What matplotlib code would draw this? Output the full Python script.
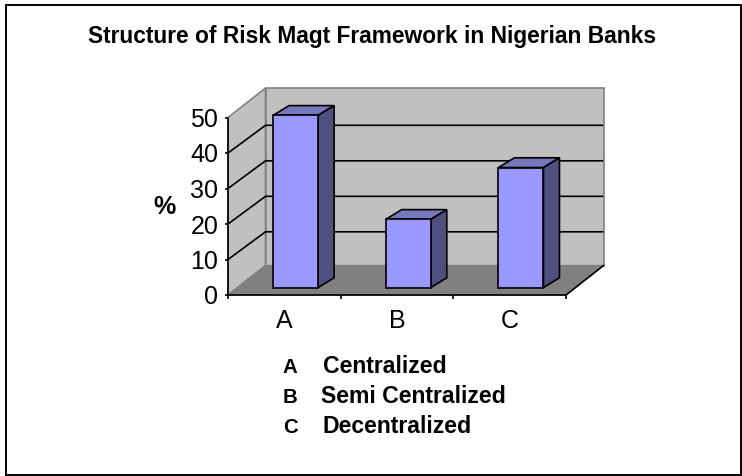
import matplotlib
matplotlib.use('Agg')
import matplotlib.pyplot as plt
from matplotlib.patches import Polygon, Rectangle

categories = ['A', 'B', 'C']
values = [48.5, 19.2, 33.8]
yticks = [0, 10, 20, 30, 40, 50]
legend_keys = ['A', 'B', 'C']
legend_names = ['Centralized', 'Semi Centralized', 'Decentralized']

W, H = 742, 476
plt.rcParams['font.family'] = ['Liberation Sans', 'DejaVu Sans']

fig = plt.figure(figsize=(W / 100, H / 100), dpi=100)
fig.add_artist(Rectangle((6 / W, 1 - 475 / H), 735 / W, 470 / H, transform=fig.transFigure,
                         fc='white', ec='black', lw=1.4, zorder=-1))

# axes box is the front plane of the fake 3d chart
ax = fig.add_axes([228 / W, 1 - 295 / H, 338 / W, 177.5 / H])
ax.set_xlim(0, 3)
ax.set_ylim(0, 50)
ax.patch.set_visible(False)
for s in ['top', 'right']:
    ax.spines[s].set_visible(False)
for s in ['left', 'bottom']:
    ax.spines[s].set_linewidth(1.2)
    ax.spines[s].set_zorder(6)

# depth of the box in data units
dx = 0.333
dy = 8.3
grid_dy = 7.8

wall = '#c0c0c0'
edge = '#808080'
ax.add_patch(Polygon([(0, 0), (0, 50), (dx, 50 + dy), (dx, dy)], fc=wall, ec=edge, lw=1.2, clip_on=False, zorder=1))
ax.add_patch(Polygon([(dx, dy), (dx, 50 + dy), (3 + dx, 50 + dy), (3 + dx, dy)], fc=wall, ec=edge, lw=1.2, clip_on=False, zorder=1))
ax.add_patch(Polygon([(0, 0), (dx, dy), (3 + dx, dy), (3, 0)], fc=edge, ec=edge, lw=1, clip_on=False, zorder=1))
ax.plot([3, 3 + dx], [0, dy], color='black', lw=1.2, clip_on=False, zorder=6)

for t in yticks[1:-1]:
    ax.plot([0, dx, 3 + dx - 0.01], [t, t + grid_dy, t + grid_dy], color='black', lw=1.2, clip_on=False, zorder=2)

# bars
bar_w = 0.4
off_x = 0.1
off_y = 2.1
bar_dx = 0.142
bar_dy = 2.75
for i, v in enumerate(values):
    x0 = i + 0.5 - bar_w / 2 + off_x
    x1 = x0 + bar_w
    y0 = off_y
    y1 = off_y + v
    ax.add_patch(Polygon([(x0, y1), (x0 + bar_dx, y1 + bar_dy), (x1 + bar_dx, y1 + bar_dy), (x1, y1)],
                         fc='#7777bb', ec='black', lw=1.2, clip_on=False, zorder=4))
    ax.add_patch(Polygon([(x1, y0), (x1 + bar_dx, y0 + bar_dy), (x1 + bar_dx, y1 + bar_dy), (x1, y1)],
                         fc='#4f4f80', ec='black', lw=1.2, clip_on=False, zorder=4))
    ax.add_patch(Rectangle((x0, y0), bar_w, v, fc='#9999ff', ec='black', lw=1.2, clip_on=False, zorder=5))

ax.set_yticks(yticks)
ax.set_xticks([0, 1, 2, 3])
ax.set_xticklabels([])
ax.set_xticks([0.5, 1.5, 2.5], minor=True)
ax.set_xticklabels(categories, minor=True)
ax.tick_params(axis='y', labelsize=18, length=2, width=1.2, pad=5)
ax.tick_params(axis='x', which='major', length=3, width=1.2)
ax.tick_params(axis='x', which='minor', length=0, labelsize=18, pad=10)

fig.text(372.5 / W, 1 - 43 / H, 'Structure of Risk Magt Framework in Nigerian Banks',
         ha='center', va='baseline', fontsize=16.4, fontweight='bold')
fig.text(165 / W, 1 - 214 / H, '%', ha='center', va='baseline', fontsize=18, fontweight='bold')

rows = [373, 403, 433]
key_x = [290, 290, 290]
name_x = [323, 321, 323]
for k, n, y, kx, nx in zip(legend_keys, legend_names, rows, key_x, name_x):
    fig.text(kx / W, 1 - y / H, k, ha='center', va='baseline', fontsize=14.7, fontweight='bold')
    fig.text(nx / W, 1 - y / H, n, ha='left', va='baseline', fontsize=16.6, fontweight='bold')

fig.savefig('out.png', dpi=100)
